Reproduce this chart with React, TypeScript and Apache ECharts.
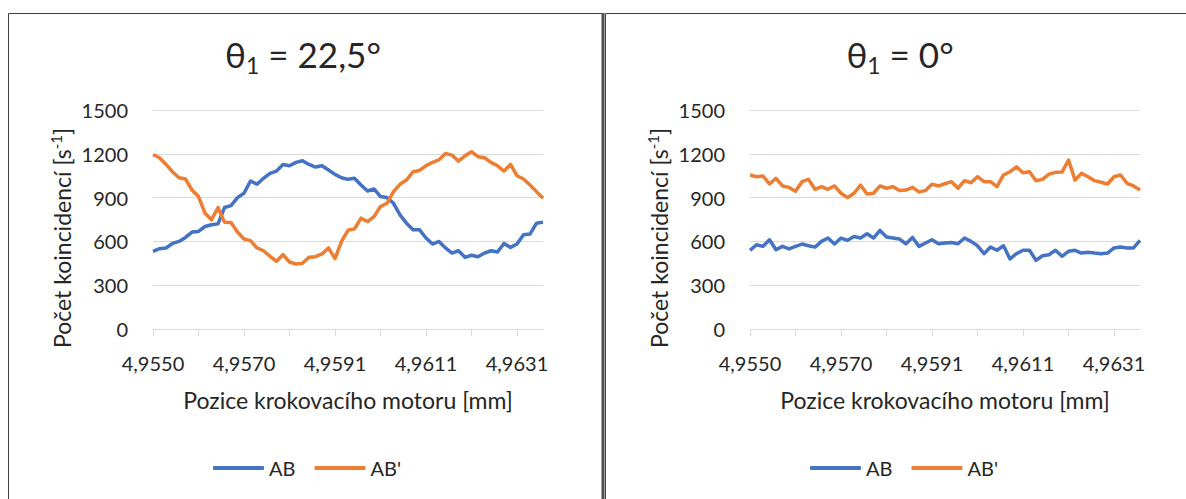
import React, { useEffect, useRef } from "react";
import * as echarts from "echarts";

// Stepper-motor positions (category axis), as printed by Excel (decimal comma)
const CATEGORIES = [
  "4,9550", "4,9551", "4,9553", "4,9554", "4,9556", "4,9557", "4,9559", "4,9560", "4,9562", "4,9563",
  "4,9565", "4,9566", "4,9567", "4,9569", "4,9570", "4,9572", "4,9573", "4,9575", "4,9576", "4,9578",
  "4,9579", "4,9580", "4,9582", "4,9583", "4,9585", "4,9586", "4,9588", "4,9589", "4,9591", "4,9592",
  "4,9594", "4,9595", "4,9596", "4,9598", "4,9599", "4,9601", "4,9602", "4,9604", "4,9605", "4,9607",
  "4,9608", "4,9609", "4,9611", "4,9612", "4,9614", "4,9615", "4,9617", "4,9618", "4,9620", "4,9621",
  "4,9623", "4,9624", "4,9625", "4,9627", "4,9628", "4,9630", "4,9631", "4,9633", "4,9634", "4,9636",
  "4,9637",
];

// θ1 = 22,5°
const AB_225 = [
  532, 550, 555, 586, 600, 627, 664, 668, 702, 714,
  720, 832, 845, 900, 930, 1014, 991, 1032, 1066, 1082,
  1127, 1118, 1141, 1152, 1127, 1109, 1118, 1089, 1059, 1036,
  1025, 1032, 986, 945, 959, 907, 900, 861, 782, 725,
  680, 680, 623, 582, 600, 555, 520, 536, 491, 505,
  495, 520, 536, 527, 586, 559, 582, 645, 650, 725, 732,
];
const ABP_225 = [
  1195, 1173, 1127, 1077, 1036, 1027, 952, 907, 793, 748,
  832, 732, 730, 664, 616, 605, 555, 536, 498, 464,
  509, 459, 445, 450, 491, 495, 514, 555, 482, 600,
  676, 686, 759, 736, 770, 839, 861, 941, 991, 1020,
  1077, 1086, 1118, 1141, 1159, 1202, 1191, 1150, 1186, 1214,
  1180, 1173, 1141, 1118, 1082, 1127, 1050, 1027, 986, 941, 895,
];

// θ1 = 0°
const AB_0 = [
  539, 577, 566, 611, 543, 566, 548, 566, 582, 570,
  561, 600, 623, 582, 623, 607, 634, 623, 652, 623,
  675, 630, 623, 616, 584, 627, 566, 589, 611, 584,
  589, 593, 584, 623, 600, 570, 516, 561, 539, 570,
  480, 516, 539, 539, 470, 502, 509, 539, 498, 532,
  539, 520, 525, 520, 516, 520, 555, 561, 555, 555, 607,
];
const ABP_0 = [
  1055, 1043, 1048, 993, 1032, 980, 970, 943, 1009, 1025,
  957, 975, 957, 980, 930, 900, 930, 986, 925, 930,
  980, 964, 975, 948, 952, 970, 939, 948, 991, 980,
  995, 1009, 964, 1016, 1002, 1043, 1009, 1009, 975, 1055,
  1077, 1111, 1070, 1077, 1016, 1025, 1061, 1073, 1075, 1157,
  1020, 1066, 1043, 1016, 1005, 993, 1043, 1055, 998, 980, 952,
];

const TITLE_VALUES = ["22,5°", "0°"];
const SERIES_NAMES = ["AB", "AB'"];
const X_TITLE = "Pozice krokovacího motoru [mm]";
const Y_TITLE = "Počet koincidencí [s";
const Y_MIN = 0;
const Y_MAX = 1500;
const Y_STEP = 300;

const FONT = 'Lato, "Noto Sans", "DejaVu Sans", sans-serif';
const TEXT = "#262626";
const GRID_C = "#D9D9D9";
const BLUE = "#4472C4";
const ORANGE = "#ED7D31";
const BORDER = "#404040";

export default function App() {
  const ref = useRef<HTMLDivElement>(null);

  useEffect(() => {
    if (!ref.current) return;
    const chart = echarts.init(ref.current, undefined, { renderer: "svg" });

    const panels = [
      { dx: 0, ab: AB_225, abp: ABP_225, title: TITLE_VALUES[0] },
      { dx: 597, ab: AB_0, abp: ABP_0, title: TITLE_VALUES[1] },
    ];

    const grids: any[] = [];
    const xAxes: any[] = [];
    const yAxes: any[] = [];
    const series: any[] = [];
    const legends: any[] = [];
    const graphics: any[] = [];

    panels.forEach((p, k) => {
      grids.push({ left: 153 + p.dx, top: 110, width: 390, height: 219 });
      xAxes.push({
        type: "category",
        gridIndex: k,
        data: CATEGORIES,
        boundaryGap: false,
        axisLine: { lineStyle: { color: GRID_C, width: 1 } },
        axisTick: { show: true, interval: 6, length: 7, lineStyle: { color: GRID_C, width: 1 } },
        axisLabel: { interval: 13, margin: 24, fontSize: 20, color: TEXT, fontFamily: FONT },
        splitLine: { show: false },
        name: X_TITLE,
        nameLocation: "middle",
        nameGap: 59,
        nameTextStyle: { fontSize: 23, color: TEXT, fontFamily: FONT },
      });
      yAxes.push({
        type: "value",
        gridIndex: k,
        min: Y_MIN,
        max: Y_MAX,
        interval: Y_STEP,
        axisLine: { show: false },
        axisTick: { show: false },
        axisLabel: {
          margin: 25,
          fontSize: 20,
          color: TEXT,
          fontFamily: FONT,
          formatter: (v: number) => String(v),
        },
        splitLine: { lineStyle: { color: GRID_C, width: 1 } },
      });
      series.push(
        {
          name: SERIES_NAMES[0],
          type: "line",
          xAxisIndex: k,
          yAxisIndex: k,
          data: p.ab,
          symbol: "none",
          lineStyle: { color: BLUE, width: 3.5, join: "round" },
          itemStyle: { color: BLUE },
        },
        {
          name: SERIES_NAMES[1],
          type: "line",
          xAxisIndex: k,
          yAxisIndex: k,
          data: p.abp,
          symbol: "none",
          lineStyle: { color: ORANGE, width: 3.5, join: "round" },
          itemStyle: { color: ORANGE },
        }
      );
      legends.push({
        data: SERIES_NAMES.map((n) => ({ name: n, icon: "roundRect" })),
        left: 213 + p.dx,
        top: 458,
        padding: 0,
        itemWidth: 51,
        itemHeight: 4,
        itemGap: 19,
        selectedMode: false,
        textStyle: { fontSize: 20, color: TEXT, fontFamily: FONT, lineHeight: 20 },
      });
      graphics.push({
        type: "text",
        x: 303 + p.dx,
        y: 54,
        style: {
          text: `{t|θ}{s|1}{t| = ${p.title}}`,
          align: "center",
          verticalAlign: "middle",
          fill: TEXT,
          rich: {
            t: { fontSize: 35, lineHeight: 44, fontFamily: FONT, fill: TEXT },
            s: { fontSize: 23, lineHeight: 23, fontFamily: FONT, fill: TEXT, verticalAlign: "bottom" },
          },
        },
      });
      graphics.push({
        type: "text",
        x: 62 + p.dx,
        y: 238,
        rotation: Math.PI / 2,
        style: {
          text: `{n|${Y_TITLE}}{u|-1}{n|]}`,
          align: "center",
          verticalAlign: "middle",
          fill: TEXT,
          rich: {
            n: { fontSize: 23, lineHeight: 28, fontFamily: FONT, fill: TEXT },
            u: { fontSize: 15, lineHeight: 15, fontFamily: FONT, fill: TEXT, verticalAlign: "top" },
          },
        },
      });
    });

    graphics.push(
      {
        type: "rect",
        shape: { x: 8.5, y: 13.5, width: 594, height: 520 },
        style: { fill: "none", stroke: BORDER, lineWidth: 1 },
        silent: true,
      },
      {
        type: "rect",
        shape: { x: 605.5, y: 13.5, width: 640, height: 520 },
        style: { fill: "none", stroke: BORDER, lineWidth: 1 },
        silent: true,
      },
      {
        type: "rect",
        shape: { x: 601.5, y: 13, width: 3, height: 520 },
        style: { fill: "#505050" },
        silent: true,
      }
    );

    chart.setOption({
      animation: false,
      backgroundColor: "#ffffff",
      textStyle: { fontFamily: FONT },
      grid: grids,
      xAxis: xAxes,
      yAxis: yAxes,
      series,
      legend: legends,
      graphic: graphics,
    });

    return () => chart.dispose();
  }, []);

  return (
    <div
      ref={ref}
      style={{ position: "absolute", left: 0, top: 0, width: 1186, height: 499 }}
    />
  );
}
